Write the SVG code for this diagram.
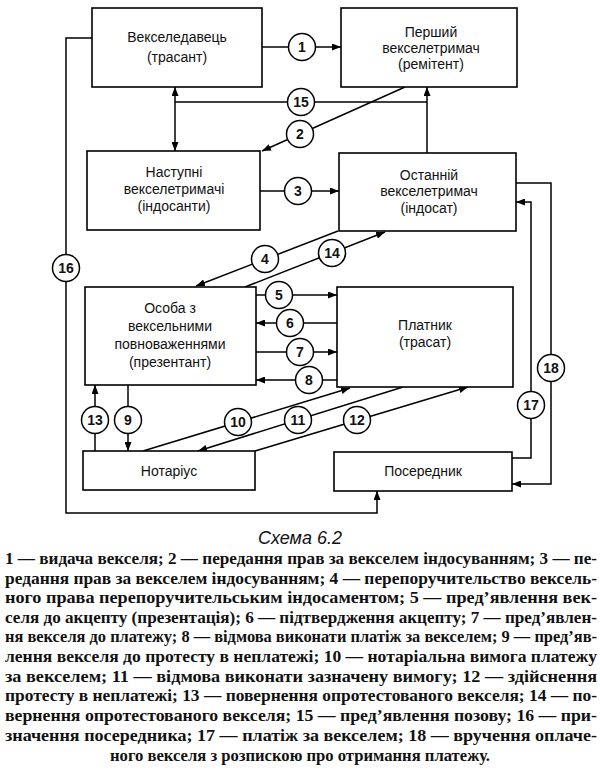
<svg xmlns="http://www.w3.org/2000/svg" width="600" height="779" viewBox="0 0 600 779">
<defs>
<marker id="ar" markerUnits="userSpaceOnUse" markerWidth="9" markerHeight="7" refX="9" refY="3.5" orient="auto">
<path d="M0,0 L9,3.5 L0,7 z" fill="#000"/>
</marker>
<style>
rect.box{fill:#fff;stroke:#000;stroke-width:1.6}
.ln{fill:none;stroke:#000;stroke-width:1.5}
.arr{marker-end:url(#ar)}
circle.lbl{fill:#fff;stroke:#000;stroke-width:1.5}
text.nt{font-family:"Liberation Sans",Arial,sans-serif;font-size:14px;text-anchor:middle;fill:#111}
text.num{font-family:"Liberation Sans",Arial,sans-serif;font-size:14px;font-weight:bold;text-anchor:middle;fill:#111}
text.cap{font-family:"Liberation Sans",Arial,sans-serif;font-size:18px;font-style:italic;text-anchor:middle;fill:#111}
text.body{font-family:"Liberation Serif","Times New Roman",serif;font-size:16.5px;font-weight:bold;fill:#111}
</style>
</defs>
<rect width="600" height="779" fill="#fff"/>

<g id="connectors">
<path class="ln arr" d="M262,47 L341,47"/>
<path class="ln" d="M175,102 L427,102"/>
<path class="ln arr" d="M175,102 L175,87"/>
<path class="ln arr" d="M175,102 L175,151"/>
<path class="ln arr" d="M427,102 L427,87"/>
<path class="ln" d="M427,102 L427,153"/>
<path class="ln arr" d="M405,87 L262,151"/>
<path class="ln arr" d="M260,191 L339,191"/>
<path class="ln arr" d="M338,231 L196,286"/>
<path class="ln arr" d="M245,287 L385,232"/>
<path class="ln arr" d="M256,295 L337,295"/>
<path class="ln arr" d="M337,323 L256,323"/>
<path class="ln arr" d="M256,352 L337,352"/>
<path class="ln arr" d="M337,380 L256,380"/>
<path class="ln arr" d="M95,451 L95,385"/>
<path class="ln arr" d="M128,385 L128,451"/>
<path class="ln arr" d="M143,451 L350,388"/>
<path class="ln arr" d="M403,387 L198,451"/>
<path class="ln arr" d="M255,451 L468,387"/>
<path class="ln arr" d="M92,38 L66,38 L66,513 L377,513 L377,491"/>
<path class="ln arr" d="M512,458 L531,458 L531,202 L516,202"/>
<path class="ln arr" d="M516,183 L551,183 L551,484 L512,484"/>

<g id="lbl1"><circle class="lbl" cx="302" cy="47" r="13.5"/><text class="num" x="302" y="52">1</text></g>
<g id="lbl2"><circle class="lbl" cx="300" cy="134" r="13.5"/><text class="num" x="300" y="139">2</text></g>
<g id="lbl3"><circle class="lbl" cx="298" cy="191" r="13.5"/><text class="num" x="298" y="196">3</text></g>
<g id="lbl4"><circle class="lbl" cx="265" cy="259" r="13.5"/><text class="num" x="265" y="264">4</text></g>
<g id="lbl5"><circle class="lbl" cx="279" cy="295" r="13.5"/><text class="num" x="279" y="300">5</text></g>
<g id="lbl6"><circle class="lbl" cx="290" cy="323" r="13.5"/><text class="num" x="290" y="328">6</text></g>
<g id="lbl7"><circle class="lbl" cx="300" cy="352" r="13.5"/><text class="num" x="300" y="357">7</text></g>
<g id="lbl8"><circle class="lbl" cx="309" cy="380" r="13.5"/><text class="num" x="309" y="385">8</text></g>
<g id="lbl9"><circle class="lbl" cx="128" cy="420" r="13.5"/><text class="num" x="128" y="425">9</text></g>
<g id="lbl10"><circle class="lbl" cx="238" cy="422" r="13.5"/><text class="num" x="238" y="427">10</text></g>
<g id="lbl11"><circle class="lbl" cx="298" cy="420" r="13.5"/><text class="num" x="298" y="425">11</text></g>
<g id="lbl12"><circle class="lbl" cx="357" cy="420" r="13.5"/><text class="num" x="357" y="425">12</text></g>
<g id="lbl13"><circle class="lbl" cx="95" cy="420" r="13.5"/><text class="num" x="95" y="425">13</text></g>
<g id="lbl14"><circle class="lbl" cx="332" cy="253" r="13.5"/><text class="num" x="332" y="258">14</text></g>
<g id="lbl15"><circle class="lbl" cx="301" cy="102" r="13.5"/><text class="num" x="301" y="107">15</text></g>
<g id="lbl16"><circle class="lbl" cx="66" cy="268" r="13.5"/><text class="num" x="66" y="273">16</text></g>
<g id="lbl17"><circle class="lbl" cx="531" cy="405" r="13.5"/><text class="num" x="531" y="410">17</text></g>
<g id="lbl18"><circle class="lbl" cx="551" cy="368" r="13.5"/><text class="num" x="551" y="373">18</text></g>
</g>

<g id="n-vekseledavets">
<rect class="box" x="92" y="8" width="170" height="79"/>
<text class="nt" x="177" y="42">Векселедавець</text>
<text class="nt" x="177" y="62">(трасант)</text>
</g>
<g id="n-pershyi">
<rect class="box" x="341" y="8" width="176" height="79"/>
<text class="nt" x="431" y="37">Перший</text>
<text class="nt" x="431" y="53">векселетримач</text>
<text class="nt" x="431" y="69">(ремітент)</text>
</g>
<g id="n-nastupni">
<rect class="box" x="87" y="151" width="173" height="79"/>
<text class="nt" x="174" y="177">Наступні</text>
<text class="nt" x="174" y="194">векселетримачі</text>
<text class="nt" x="174" y="211">(індосанти)</text>
</g>
<g id="n-ostanniy">
<rect class="box" x="339" y="153" width="177" height="78"/>
<text class="nt" x="429" y="180">Останній</text>
<text class="nt" x="429" y="196">векселетримач</text>
<text class="nt" x="429" y="213">(індосат)</text>
</g>
<g id="n-osoba">
<rect class="box" x="85" y="287" width="171" height="98"/>
<text class="nt" x="170" y="313">Особа з</text>
<text class="nt" x="170" y="331">вексельними</text>
<text class="nt" x="170" y="349">повноваженнями</text>
<text class="nt" x="170" y="367">(презентант)</text>
</g>
<g id="n-platnyk">
<rect class="box" x="337" y="287" width="176" height="100"/>
<text class="nt" x="425" y="330">Платник</text>
<text class="nt" x="425" y="347">(трасат)</text>
</g>
<g id="n-notarius">
<rect class="box" x="83" y="451" width="172" height="39"/>
<text class="nt" x="169" y="476">Нотаріус</text>
</g>
<g id="n-poserednyk">
<rect class="box" x="334" y="452" width="178" height="39"/>
<text class="nt" x="423" y="476">Посередник</text>
</g>

<g id="caption">
<text class="cap" x="300" y="544">Схема 6.2</text>
<text class="body" x="5" y="564" textLength="592" lengthAdjust="spacingAndGlyphs">1 — видача векселя; 2 — передання прав за векселем індосуванням; 3 — пе-</text>
<text class="body" x="5" y="584" textLength="592" lengthAdjust="spacingAndGlyphs">редання прав за векселем індосуванням; 4 — перепоручительство вексель-</text>
<text class="body" x="5" y="603" textLength="592" lengthAdjust="spacingAndGlyphs">ного права перепоручительським індосаментом; 5 — пред’явлення век-</text>
<text class="body" x="5" y="623" textLength="592" lengthAdjust="spacingAndGlyphs">селя до акцепту (презентація); 6 — підтвердження акцепту; 7 — пред’явлен-</text>
<text class="body" x="5" y="642" textLength="592" lengthAdjust="spacingAndGlyphs">ня векселя до платежу; 8 — відмова виконати платіж за векселем; 9 — пред’яв-</text>
<text class="body" x="5" y="662" textLength="592" lengthAdjust="spacingAndGlyphs">лення векселя до протесту в неплатежі; 10 — нотаріальна вимога платежу</text>
<text class="body" x="5" y="682" textLength="592" lengthAdjust="spacingAndGlyphs">за векселем; 11 — відмова виконати зазначену вимогу; 12 — здійснення</text>
<text class="body" x="5" y="701" textLength="592" lengthAdjust="spacingAndGlyphs">протесту в неплатежі; 13 — повернення опротестованого векселя; 14 — по-</text>
<text class="body" x="5" y="721" textLength="592" lengthAdjust="spacingAndGlyphs">вернення опротестованого векселя; 15 — пред’явлення позову; 16 — при-</text>
<text class="body" x="5" y="741" textLength="592" lengthAdjust="spacingAndGlyphs">значення посередника; 17 — платіж за векселем; 18 — вручення оплаче-</text>
<text class="body" x="110" y="761" textLength="380" lengthAdjust="spacingAndGlyphs">ного векселя з розпискою про отримання платежу.</text>
</g>
</svg>
